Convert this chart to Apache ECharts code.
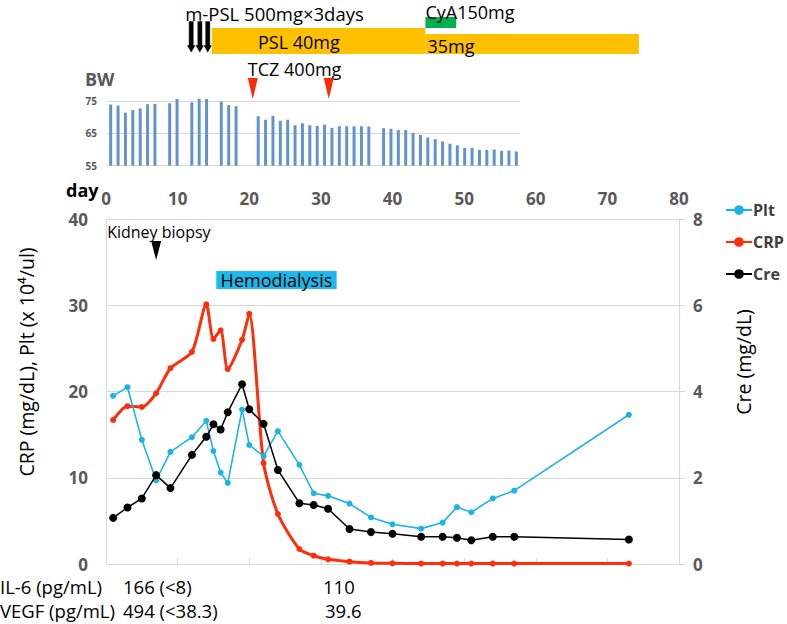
<!DOCTYPE html>
<html><head><meta charset="utf-8">
<script src="https://cdn.jsdelivr.net/npm/echarts@6/dist/echarts.min.js"></script>
<style>html,body{margin:0;padding:0;background:#fff}#c{width:787px;height:624px}</style>
</head><body><div id="c"></div>
<script>
// ---------- data ----------
const labDays   = [1,3,5,7,9,12,14,15,16,17,19,20,22,24,27,29,31,34,37,40,44,47,49,51,54,57,73];
const pltValues = [19.5,20.5,14.4,9.7,13.0,14.7,16.6,13.1,10.6,9.4,17.9,13.8,12.5,15.4,11.5,8.2,7.9,7.0,5.4,4.6,4.1,4.8,6.6,6.0,7.6,8.5,17.3];
const crpValues = [16.7,18.3,18.2,19.8,22.7,24.6,30.1,26.1,27.1,22.6,26.0,29.0,11.7,5.8,1.74,0.96,0.54,0.27,0.12,0.08,0.05,0.05,0.05,0.05,0.05,0.05,0.05];
const creValues = [1.07,1.31,1.52,2.06,1.76,2.53,2.95,3.24,3.12,3.52,4.17,3.59,3.25,2.18,1.41,1.37,1.28,0.81,0.74,0.70,0.63,0.63,0.61,0.55,0.63,0.63,0.57];

const bwDays   = [1,2,3,4,5,6,7, 9,10, 12,13,14, 16,17,18,
                  21,22,23,24,25,26,27,28,29,30,31,32,33,34,35,36,
                  38,39,40,41,42,43,44,45,46,47,48,49,50,51,52,53,54,55,56];
const bwValues = [73.9,73.6,71.4,72.2,72.7,74.0,74.1, 74.3,75.6, 74.6,75.7,75.6, 74.8,73.7,73.4,
                  70.3,69.2,70.4,68.9,69.2,67.5,68.1,67.5,67.3,67.7,66.7,67.2,67.2,67.2,67.2,67.1,
                  66.6,66.4,66.0,66.0,65.2,64.5,63.7,63.2,62.5,61.8,61.3,60.5,60.5,59.9,59.9,60.0,59.6,59.7,59.4];

const dayTicks  = [0,10,20,30,40,50,60,70,80];
const leftTicks = [0,10,20,30,40];
const creTicks  = [0,2,4,6,8];
const bwTicks   = [55,65,75];
const bwAxisMax = 77;

const treatStart = [14.8, 44.6, 44.6];
const treatEnd   = [44.6, 74.4, 48.9];
const treatNames = ['PSL 40mg', '35mg', 'CyA150mg'];
const mpslDays   = [11.9, 13.1, 14.2];
const mpslLabel  = 'm-PSL 500mg\u00d73days';
const tczDays    = [20.5, 31.1];
const tczLabel   = 'TCZ 400mg';
const biopsyDay  = [7];
const biopsyLabel = 'Kidney biopsy';
const hemoPeriod = [15.4, 32.2];
const hemoLabel  = 'Hemodialysis';

const leftAxisName  = 'CRP (mg/dL), Plt (x 10\u2074/ul)';
const rightAxisName = 'Cre (mg/dL)';
const il6Row  = ['IL-6 (pg/mL)', '166 (<8)', '110'];
const vegfRow = ['VEGF (pg/mL)', '494 (<38.3)', '39.6'];

// ---------- style ----------
const FONT = '"Open Sans", sans-serif';
const GRAY = '#595959';
const GRID = '#d9d9d9';

const treatStyles = [
  {y0: 28, y1: 54, color: '#ffc000', dx: 46, ty: 42},
  {y0: 34, y1: 54, color: '#ffc000', dx: 2,  ty: 46},
  {y0: 17, y1: 28, color: '#00b050', dx: 0,  ty: 12}
];

function renderTreat(params, api) {
  const i = api.value(2);
  const st = treatStyles[i];
  const a = api.coord([api.value(0), st.y0]);
  const b = api.coord([api.value(1), st.y1]);
  return {type: 'group', children: [
    {type: 'rect', shape: {x: a[0], y: a[1], width: b[0] - a[0], height: b[1] - a[1]}, style: {fill: st.color}},
    {type: 'text', x: a[0] + st.dx, y: api.coord([0, st.ty])[1],
      style: {text: treatNames[i], fill: '#000', font: '18px ' + FONT, align: 'left', verticalAlign: 'middle'}}
  ]};
}

function renderMpsl(params, api) {
  const x = api.coord([api.value(0), 0])[0];
  const y = function (v) { return api.coord([0, v])[1]; };
  const children = [{type: 'polygon', shape: {points: [
      [x - 2.6, y(21)], [x + 2.6, y(21)], [x + 2.6, y(45)], [x + 4.6, y(45)],
      [x, y(53)], [x - 4.6, y(45)], [x - 2.6, y(45)]]},
    style: {fill: '#000', stroke: '#fff', lineWidth: 0.6}}];
  if (params.dataIndex === 0) {
    children.push({type: 'text', x: x - 6, y: y(13),
      style: {text: mpslLabel, fill: '#000', font: '18.5px ' + FONT, align: 'left', verticalAlign: 'middle'}});
  }
  return {type: 'group', children: children};
}

function renderTcz(params, api) {
  const x = api.coord([api.value(0), 0])[0];
  const y = function (v) { return api.coord([0, v])[1]; };
  const children = [{type: 'polygon', shape: {points: [[x - 5, y(78)], [x + 5, y(78)], [x, y(99)]]},
    style: {fill: '#ff2a00'}}];
  if (params.dataIndex === 0) {
    children.push({type: 'text', x: x - 5, y: y(69),
      style: {text: tczLabel, fill: '#000', font: '18px ' + FONT, align: 'left', verticalAlign: 'middle'}});
  }
  return {type: 'group', children: children};
}

function renderBiopsy(params, api) {
  const p = api.coord([api.value(0), 40]);
  const x = p[0], top = p[1];
  return {type: 'group', children: [
    {type: 'polygon', shape: {points: [[x - 5, top + 22], [x + 5, top + 22], [x, top + 41]]}, style: {fill: '#000'}},
    {type: 'text', x: x - 49, y: top + 13,
      style: {text: biopsyLabel, fill: '#000', font: '16px ' + FONT, align: 'left', verticalAlign: 'middle'}}
  ]};
}

function renderHemo(params, api) {
  const a = api.coord([api.value(0), 40]);
  const b = api.coord([api.value(1), 40]);
  const top = a[1];
  return {type: 'group', children: [
    {type: 'rect', shape: {x: a[0], y: top + 52, width: b[0] - a[0], height: 18}, style: {fill: '#19b9ec'}},
    {type: 'text', x: (a[0] + b[0]) / 2, y: top + 61,
      style: {text: hemoLabel, fill: '#000', font: '18px ' + FONT, align: 'center', verticalAlign: 'middle'}}
  ]};
}

function pairs(xs, ys) { return xs.map(function (d, i) { return [d, ys[i]]; }); }
function bottomText(t, left, top) {
  return {type: 'text', left: left, top: top, style: {text: t, fill: '#000', font: '18.5px ' + FONT}};
}

const bwPxPerUnit = 64.7 / (bwTicks[bwTicks.length - 1] - bwTicks[0]);
const bwExtra = (bwAxisMax - bwTicks[bwTicks.length - 1]) * bwPxPerUnit;

const chart = echarts.init(document.getElementById('c'), null, {renderer: 'svg'});
chart.setOption({
  animation: false,
  backgroundColor: '#fff',
  textStyle: {fontFamily: FONT},
  grid: [
    {left: 106, width: 573, top: 0, height: 100},
    {left: 107, width: 413, top: 101 - bwExtra, height: 64.7 + bwExtra},
    {left: 106, width: 573, top: 219, height: 345}
  ],
  xAxis: [
    {gridIndex: 0, type: 'value', min: 0, max: 80, show: false},
    {gridIndex: 1, type: 'value', min: 0.5, max: 56.5, show: false},
    {gridIndex: 2, type: 'value', position: 'top', min: dayTicks[0], max: dayTicks[dayTicks.length - 1], interval: 10,
      axisLine: {show: true, lineStyle: {color: GRID}},
      axisTick: {show: true, length: 6, lineStyle: {color: GRID}},
      axisLabel: {color: GRAY, fontWeight: 'bold', fontSize: 17, margin: 12},
      splitLine: {show: false}}
  ],
  yAxis: [
    {gridIndex: 0, type: 'value', min: 0, max: 100, inverse: true, show: false},
    {gridIndex: 1, type: 'value', min: bwTicks[0], max: bwAxisMax, interval: 10,
      axisLine: {show: false}, axisTick: {show: false},
      axisLabel: {color: GRAY, fontWeight: 'bold', fontSize: 10, margin: 10,
        formatter: function (v) { return bwTicks.indexOf(v) >= 0 ? String(v) : ''; }},
      splitLine: {lineStyle: {color: [GRID, GRID, GRID, 'rgba(0,0,0,0)']}}},
    {gridIndex: 2, type: 'value', min: leftTicks[0], max: leftTicks[leftTicks.length - 1], interval: 10,
      axisLine: {show: true, lineStyle: {color: GRID}}, axisTick: {show: false},
      axisLabel: {color: GRAY, fontWeight: 'bold', fontSize: 17, margin: 18},
      splitLine: {lineStyle: {color: ['#9dc3e6', GRID, GRID, GRID, GRID]}}},
    {gridIndex: 2, type: 'value', position: 'right', min: creTicks[0], max: creTicks[creTicks.length - 1], interval: 2,
      axisLine: {show: true, lineStyle: {color: '#c9d7ec'}},
      axisTick: {show: true, length: 6, lineStyle: {color: '#c9d7ec'}},
      axisLabel: {color: GRAY, fontWeight: 'bold', fontSize: 17, margin: 14},
      splitLine: {show: false}}
  ],
  legend: {
    orient: 'vertical', left: 720, top: 197, itemWidth: 26, itemHeight: 12, itemGap: 16,
    data: ['Plt', 'CRP', 'Cre'],
    textStyle: {color: '#404040', fontWeight: 'bold', fontSize: 16, padding: [0, 0, 0, -4]}
  },
  series: [
    {type: 'custom', name: 'treatment', xAxisIndex: 0, yAxisIndex: 0, renderItem: renderTreat,
      data: treatStart.map(function (s, i) { return [s, treatEnd[i], i]; }), silent: true},
    {type: 'custom', name: 'mpsl', xAxisIndex: 0, yAxisIndex: 0, renderItem: renderMpsl,
      data: mpslDays.map(function (d) { return [d]; }), silent: true},
    {type: 'custom', name: 'tcz', xAxisIndex: 0, yAxisIndex: 0, renderItem: renderTcz,
      data: tczDays.map(function (d) { return [d]; }), silent: true},
    {type: 'bar', name: 'BW', xAxisIndex: 1, yAxisIndex: 1, barWidth: 3,
      itemStyle: {color: '#6293cd'}, data: pairs(bwDays, bwValues)},
    {type: 'custom', name: 'biopsy', xAxisIndex: 2, yAxisIndex: 2, renderItem: renderBiopsy,
      data: biopsyDay.map(function (d) { return [d]; }), silent: true, clip: false},
    {type: 'custom', name: 'hemo', xAxisIndex: 2, yAxisIndex: 2, renderItem: renderHemo,
      data: [hemoPeriod], silent: true, clip: false},
    {type: 'line', name: 'CRP', xAxisIndex: 2, yAxisIndex: 2, z: 2,
      smooth: 0.25, color: '#ff2d0a', lineStyle: {width: 3}, symbol: 'circle', symbolSize: 6,
      data: pairs(labDays, crpValues)},
    {type: 'line', name: 'Plt', xAxisIndex: 2, yAxisIndex: 2, z: 3,
      color: '#1cb3e8', lineStyle: {width: 1.6}, symbol: 'circle', symbolSize: 6,
      data: pairs(labDays, pltValues)},
    {type: 'line', name: 'Cre', xAxisIndex: 2, yAxisIndex: 3, z: 4,
      color: '#000', lineStyle: {width: 1.5}, symbol: 'circle', symbolSize: 8,
      data: pairs(labDays, creValues)}
  ],
  graphic: [
    {type: 'text', left: 85, top: 70, style: {text: 'BW', fill: GRAY, font: 'bold 18px ' + FONT}},
    {type: 'text', left: 66, top: 181, style: {text: 'day', fill: '#000', font: 'bold 18px ' + FONT}},
    {type: 'text', x: 26, y: 362, rotation: Math.PI / 2,
      style: {text: leftAxisName, fill: '#000', font: '19.5px ' + FONT, align: 'center', verticalAlign: 'middle'}},
    {type: 'text', x: 743, y: 362, rotation: Math.PI / 2,
      style: {text: rightAxisName, fill: '#000', font: '19.5px ' + FONT, align: 'center', verticalAlign: 'middle'}},
    bottomText(il6Row[0], 0, 577), bottomText(il6Row[1], 123, 577), bottomText(il6Row[2], 323, 577),
    bottomText(vegfRow[0], 0, 601), bottomText(vegfRow[1], 123, 601), bottomText(vegfRow[2], 325, 601)
  ]
});
</script></body></html>
